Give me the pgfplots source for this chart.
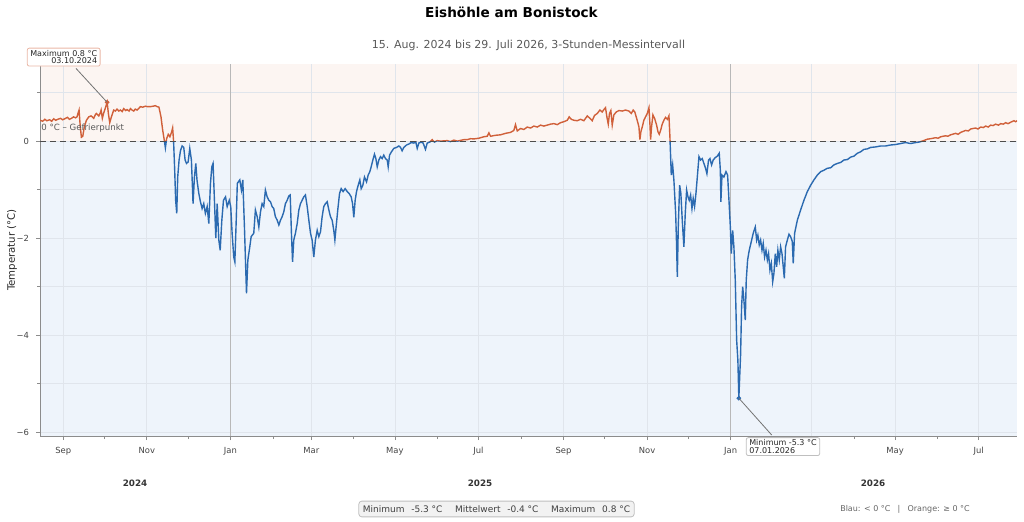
\documentclass[border=0pt]{standalone}
\usepackage{pgfplots}
\pgfplotsset{compat=1.18}
\usepackage{pgfplotstable}
\usepackage{fontspec}
\setmainfont{DejaVu Sans}
\definecolor{posbg}{HTML}{FCF5F2}
\definecolor{negbg}{HTML}{EEF4FB}
\definecolor{oline}{HTML}{D0603A}
\definecolor{bline}{HTML}{2B6AB0}
\definecolor{gridc}{HTML}{E0E5EC}
\definecolor{txt}{HTML}{444444}
\newcommand{\fs}[1]{\fontsize{#1}{#1}\selectfont}

\pgfplotstableread{
d t
-139 0.43
-137 0.41
-135.5 0.45
-134 0.42
-132 0.44
-130.5 0.41
-129 0.46
-127.5 0.43
-126 0.45
-124 0.47
-122.5 0.44
-121 0.46
-119 0.49
-117.5 0.45
-116 0.47
-114.5 0.50
-113 0.48
-112 0.50
-111.2 0.58
-110.5 0.64
-109.7 0.33
-108.8 0.08
-107.8 0.10
-106.6 0.30
-105.1 0.43
-103.4 0.50
-101.7 0.52
-99.8 0.47
-98.5 0.55
-97.8 0.57
-96.1 0.52
-95 0.58
-94.4 0.64
-93.5 0.47
-92.5 0.58
-91 0.71
-90 0.80
-89.1 0.57
-88.1 0.38
-86.9 0.50
-85.2 0.64
-84 0.62
-82.8 0.66
-81.5 0.62
-80.3 0.64
-79 0.61
-77.9 0.67
-76.5 0.63
-75.5 0.65
-74 0.62
-73 0.67
-71.8 0.64
-70.6 0.62
-69.5 0.66
-68.2 0.64
-67 0.67
-65.8 0.71
-64 0.70
-62.1 0.72
-60.5 0.71
-58.5 0.71
-56.5 0.72
-54.8 0.73
-53.5 0.71
-52.2 0.70
-50.7 0.50
-49.5 0.23
-48.3 0.02
-47.5 -0.14
-46.6 0.05
-45.4 0.14
-44.2 0.09
-42.9 0.19
-42.2 0.27
-41.5 -0.01
-40.7 -0.60
-40.0 -1.22
-39.2 -1.49
-38.5 -0.74
-37.5 -0.39
-36.5 -0.20
-35.3 -0.10
-34.1 -0.13
-33.1 -0.39
-32.1 -0.46
-30.9 -0.43
-29.7 -0.15
-28.5 -0.39
-27.3 -1.29
-26.3 -0.74
-25.3 -0.46
-24.4 -0.81
-23.1 -1.08
-21.9 -1.25
-20.7 -1.39
-19.5 -1.29
-18.3 -1.49
-17.0 -1.35
-15.8 -1.70
-14.6 -0.87
-13.6 -0.53
-12.7 -0.46
-11.7 -1.22
-10.7 -2.00
-9.7 -1.29
-8.5 -2.04
-7.5 -2.25
-6.3 -1.63
-5.1 -1.22
-3.6 -1.15
-2.4 -1.35
-0.9 -1.22
0.2 -1.35
1.2 -1.90
2.4 -2.39
3.2 -2.49
4.2 -1.63
5.0 -0.87
6.8 -0.80
8.0 -1.01
9.0 -0.80
10.2 -1.77
11.7 -3.14
12.7 -2.45
14.1 -2.18
15.1 -1.97
17.0 -1.90
18.2 -1.42
19.5 -1.56
20.7 -1.77
21.9 -1.46
23.1 -1.29
24.3 -1.35
25.5 -1.01
26.8 -1.15
28.0 -1.22
29.2 -1.25
30.4 -1.35
31.6 -1.39
32.8 -1.56
34.1 -1.63
35.3 -1.73
36.5 -1.63
37.7 -1.56
38.9 -1.46
40.1 -1.29
41.4 -1.22
42.6 -1.13
43.6 -1.11
44.5 -1.90
45.3 -2.49
46.2 -2.04
47.4 -1.90
48.7 -1.70
49.9 -1.42
51.1 -1.29
52.3 -1.22
53.5 -1.15
54.7 -1.11
56.0 -1.35
57.2 -1.63
58.4 -1.90
59.6 -2.04
60.8 -2.39
62.0 -2.04
63.3 -1.84
64.5 -1.97
65.7 -1.87
66.9 -1.56
68.1 -1.35
69.3 -1.29
70.6 -1.25
71.8 -1.42
73.0 -1.56
74.2 -1.63
75.4 -1.84
76.2 -2.04
77.1 -1.77
78.3 -1.42
79.6 -1.08
80.8 -0.98
82.2 -1.04
83.7 -0.98
85.2 -1.04
86.6 -1.08
88.1 -1.15
89.1 -1.29
90.0 -1.57
91.0 -1.22
92.0 -1.04
93.2 -0.91
94.4 -0.80
95.4 -0.98
96.6 -0.91
97.8 -0.74
99.3 -0.84
100.5 -0.70
101.7 -0.63
102.7 -0.53
103.9 -0.39
105.1 -0.27
106.1 -0.36
107.1 -0.53
108.3 -0.39
109.5 -0.32
110.7 -0.36
111.9 -0.29
113.1 -0.36
114.4 -0.39
115.1 -0.53
116.1 -0.29
117.5 -0.22
119.2 -0.15
121.2 -0.13
122.9 -0.10
124.1 -0.13
125.3 -0.20
126.5 -0.13
128.5 -0.08
130.2 -0.06
131.9 -0.03
133.8 -0.04
135.3 -0.02
136.3 -0.15
137.5 -0.04
139.2 -0.02
140.6 -0.04
142.3 -0.17
143.6 -0.04
145.5 -0.02
147.2 0.03
148.9 -0.02
150.9 0.01
153.3 0.00
158.2 0.01
160.5 -0.01
163.0 0.02
165.5 0.00
167.9 0.015
170.3 0.03
172.8 0.03
175.2 0.05
177.6 0.045
181.3 0.06
184.9 0.09
187.4 0.10
188.6 0.17
189.8 0.10
193.4 0.12
197.1 0.13
200.7 0.16
204.4 0.18
206.8 0.22
208.0 0.34
209.3 0.21
211.7 0.26
214.1 0.24
216.6 0.29
219.0 0.27
221.4 0.31
223.9 0.29
226.3 0.33
228.7 0.31
231.2 0.33
233.6 0.35
236.0 0.36
238.5 0.34
240.9 0.38
243.3 0.40
245.8 0.43
247.2 0.50
248.7 0.45
250.6 0.43
253.1 0.42
255.5 0.45
257.9 0.42
260.4 0.52
262.3 0.47
264.0 0.42
265.7 0.53
267.7 0.57
269.6 0.64
271.3 0.60
272.5 0.65
273.7 0.69
274.7 0.50
275.7 0.35
276.6 0.57
277.6 0.63
278.6 0.33
279.8 0.54
281.5 0.60
283.5 0.63
285.9 0.62
288.3 0.64
290.8 0.62
292.5 0.57
293.9 0.64
295.1 0.60
296.1 0.50
297.1 0.40
298.1 0.29
298.8 0.03
299.5 0.19
300.5 0.29
301.7 0.43
302.9 0.50
304.2 0.57
305.4 0.69
306.1 0.36
306.6 0.03
307.3 0.29
308.3 0.54
309.5 0.47
311.0 0.33
312.0 0.19
312.9 0.14
313.9 0.22
315.1 0.35
316.3 0.43
317.5 0.49
318.8 0.45
320.0 0.52
320.7 0.09
321.7 -0.70
322.7 -0.49
323.6 -0.80
324.9 -1.49
325.6 -2.18
326.1 -2.80
326.8 -1.77
327.8 -0.91
328.7 -1.08
329.7 -1.63
330.9 -2.18
331.9 -1.49
332.9 -1.01
333.9 -1.15
334.8 -1.22
335.8 -1.11
336.8 -1.39
337.7 -1.18
338.7 -1.35
339.7 -1.08
340.7 -0.74
341.9 -0.32
343.1 -0.39
344.3 -0.36
345.5 -0.46
346.7 -0.56
347.7 -0.67
348.9 -0.39
349.9 -0.36
351.1 -0.49
352.3 -0.39
353.8 -0.34
355.3 -0.31
356.7 -0.25
357.5 -0.60
357.9 -1.25
358.7 -0.70
360.1 -0.74
361.6 -0.63
362.8 -0.70
363.8 -1.22
364.8 -1.77
365.5 -2.32
366.5 -1.84
367.4 -2.18
368.4 -2.87
369.4 -4.10
370.3 -4.52
371.0 -5.30
372.3 -4.39
373.0 -3.42
373.8 -3.00
374.7 -3.28
375.7 -3.69
376.4 -2.87
377.4 -2.45
378.6 -2.25
380.1 -2.07
381.5 -1.90
383.0 -1.77
384.0 -2.04
384.9 -1.94
385.9 -2.14
386.9 -2.04
387.9 -2.25
388.8 -2.11
389.8 -2.39
390.8 -2.25
391.8 -2.45
392.7 -2.32
393.7 -2.66
394.7 -2.52
395.7 -2.90
396.6 -2.73
397.6 -2.32
398.6 -2.59
399.5 -2.25
400.5 -2.45
401.5 -2.18
402.5 -2.32
403.4 -2.59
404.2 -2.83
405.1 -2.18
406.4 -2.04
407.6 -1.92
408.8 -1.97
410.0 -2.07
410.7 -2.52
411.7 -1.90
413.7 -1.63
416.1 -1.42
418.5 -1.22
421.0 -1.04
423.4 -0.91
425.8 -0.80
428.3 -0.70
430.7 -0.63
433.1 -0.60
435.6 -0.56
438.0 -0.55
440.4 -0.49
442.9 -0.46
445.3 -0.44
447.7 -0.39
450.2 -0.38
452.6 -0.33
455.0 -0.31
457.5 -0.25
459.9 -0.22
462.3 -0.17
464.8 -0.16
467.2 -0.13
470.8 -0.12
474.5 -0.10
478.1 -0.10
481.8 -0.08
485.4 -0.07
489.1 -0.05
492.7 -0.03
496.4 -0.05
500.0 -0.03
502.5 -0.02
504.9 0.00
508.6 0.04
511.0 0.05
514.6 0.07
516.5 0.06
518.3 0.09
521.9 0.11
523.5 0.10
525.6 0.13
529.2 0.16
531.0 0.14
532.9 0.18
536.5 0.22
538.5 0.21
540.2 0.25
543.8 0.27
545.5 0.25
547.5 0.29
549.5 0.28
551.1 0.31
553.0 0.29
554.8 0.33
556.5 0.32
558.4 0.35
560.5 0.33
562.1 0.36
564.0 0.35
565.7 0.38
567.5 0.36
569.4 0.39
571.8 0.42
573.0 0.40
574.0 0.42
}\data

\begin{document}
\begin{tikzpicture}
\begin{axis}[
  at={(20pt,42.5pt)}, anchor=south west,
  scale only axis, width=488.5pt, height=186pt,
  xmin=-139, xmax=574, ymin=-6.08, ymax=1.59,
  set layers, clip=false,
  axis x line*=bottom, axis y line*=left,
  axis line style={-, draw=black!45, line width=0.5pt},
  xtick={-122,-61,0,59,120,181,243,304,365,424,485,546},
  xticklabels={Sep,Nov,Jan,Mar,May,Jul,Sep,Nov,Jan,Mar,May,Jul},
  minor xtick={-92,-31,31,90,151,212,273,334,396,455,516},
  ytick={-6,-4,-2,0},
  yticklabels={−6,−4,−2,0},
  minor ytick={-5,-3,-1,1},
  xmajorgrids, ymajorgrids, yminorgrids,
  major grid style={draw=gridc, line width=0.4pt},
  minor grid style={draw=gridc, line width=0.4pt},
  tick align=outside,
  major tick length=2pt, minor tick length=1.5pt,
  tick style={draw=black!45, line width=0.4pt},
  ticklabel style={font=\fs{4.2}, text=txt},
  extra x ticks={0,365}, extra x tick labels={},
  extra x tick style={grid=major, major grid style={draw=black!28, line width=0.55pt}},
]
\addplot[draw=none, fill=posbg, on layer=axis background, forget plot]
  coordinates {(-139,0) (574,0) (574,1.59) (-139,1.59)};
\addplot[draw=none, fill=negbg, on layer=axis background, forget plot]
  coordinates {(-139,-6.08) (574,-6.08) (574,0) (-139,0)};
\begin{scope}
\clip (axis cs:-139,0) rectangle (axis cs:574,1.59);
\addplot[oline, line width=0.7pt, forget plot] table[x=d, y=t] {\data};
\end{scope}
\begin{scope}
\clip (axis cs:-139,-6.08) rectangle (axis cs:574,0);
\addplot[bline, line width=0.7pt, forget plot] table[x=d, y=t] {\data};
\end{scope}
\addplot[draw=black!70, dash pattern=on 3pt off 2pt, line width=0.55pt, forget plot]
  coordinates {(-139,0) (574,0)};
\addplot[only marks, mark=*, mark size=0.95pt, color=oline, forget plot] coordinates {(-90,0.80)};
\addplot[only marks, mark=*, mark size=0.95pt, color=bline, forget plot] coordinates {(371,-5.30)};
\node[anchor=west, font=\fs{4.3}, text=black!65, inner sep=0.5pt] at (axis cs:-139,0.27) {0 °C – Gefrierpunkt};
\coordinate (maxp) at (axis cs:-90,0.80);
\coordinate (minp) at (axis cs:371,-5.30);
\end{axis}
% annotations
\draw[black!55, line width=0.4pt] (38pt,226.3pt) -- (maxp);
\node[draw=oline!45, fill=white, rounded corners=1pt, inner xsep=1.5pt, inner ysep=1pt,
  align=right, font=\fs{4}, text=black!85] at (31.85pt,231.95pt)
  {Maximum 0.8 °C\\[-0.1pt]03.10.2024};
\draw[black!55, line width=0.4pt] (385.85pt,43pt) -- (minp);
\node[draw=black!25, fill=white, rounded corners=1pt, inner xsep=1.5pt, inner ysep=1pt,
  align=left, font=\fs{4}, text=black!85] at (391.5pt,37.2pt)
  {Minimum -5.3 °C\\[-0.1pt]07.01.2026};
% titles
\node[font=\bfseries\fs{6.8}] at (255.75pt,254.5pt) {Eishöhle am Bonistock};
\node[font=\fs{5.5}, text=black!65] at (264.25pt,238pt) {15. Aug. 2024 bis 29. Juli 2026, 3-Stunden-Messintervall};
\node[rotate=90, font=\fs{5.1}, text=black!85] at (6pt,135.5pt) {Temperatur (°C)};
% year labels
\node[font=\bfseries\fs{4.4}, text=black!80] at (67.5pt,19pt) {2024};
\node[font=\bfseries\fs{4.4}, text=black!80] at (240pt,19pt) {2025};
\node[font=\bfseries\fs{4.4}, text=black!80] at (436.5pt,19pt) {2026};
% stats box
\node[draw=black!25, fill=black!5, rounded corners=1.5pt, inner xsep=2pt, inner ysep=2.2pt,
  font=\fs{4.5}, text=black!75] at (248.25pt,6pt)
  {Minimum\hspace{0.75em}-5.3 °C\hspace{1.4em}Mittelwert\hspace{0.75em}-0.4 °C\hspace{1.4em}Maximum\hspace{0.75em}0.8 °C};
\node[font=\fs{4}, text=black!60] at (452.5pt,6pt)
  {Blau: < 0 °C\hspace{0.9em}|\hspace{0.9em}Orange: ≥ 0 °C};
\pgfresetboundingbox
\path (0,0) rectangle (512pt,260.5pt);
\end{tikzpicture}
\end{document}
